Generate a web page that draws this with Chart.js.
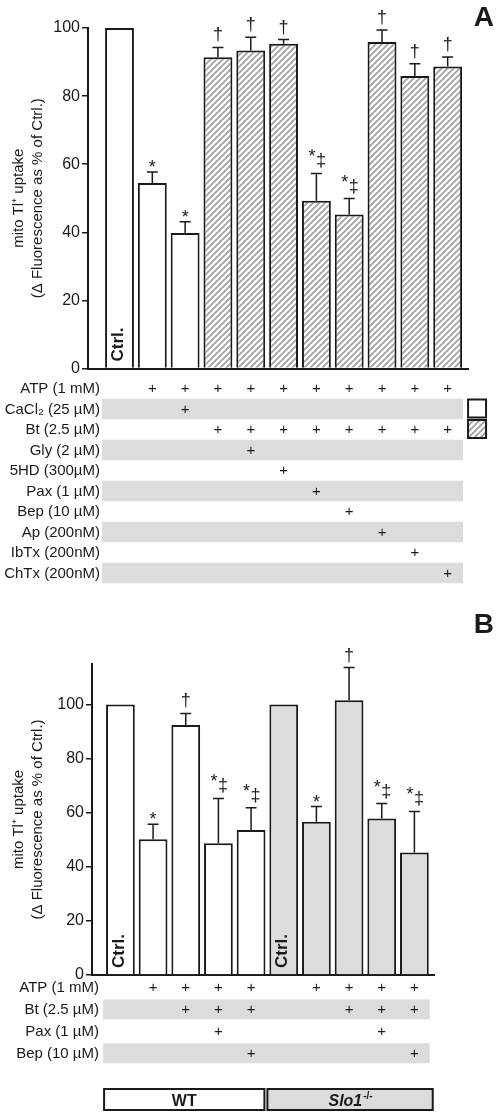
<!DOCTYPE html>
<html>
<head>
<meta charset="utf-8">
<script src="https://cdn.jsdelivr.net/npm/chart.js@4/dist/chart.umd.min.js"></script>
<style>
  html, body { margin: 0; padding: 0; background: #fff; }
  #wrap { position: relative; width: 498px; height: 1116px; }
  .panel { position: absolute; left: 0; width: 498px; }
  #boxA { top: 0; height: 595px; }
  #boxB { top: 595px; height: 521px; }
</style>
</head>
<body>
<div id="wrap">
  <div class="panel" id="boxA"><canvas id="chartA"></canvas></div>
  <div class="panel" id="boxB"><canvas id="chartB"></canvas></div>
</div>
<script>
// ---- panel A data ----
const uptakeA = [100, 54.5, 39.8, 91.4, 93.4, 95.4, 49.3, 45.2, 95.9, 85.9, 88.7];
const semA    = [0, 3.2, 3.3, 2.9, 3.9, 1.2, 8.0, 4.7, 3.5, 3.6, 2.8];
const sigA    = ['', '*', '*', '†', '†', '†', '*‡', '*‡', '†', '†', '†'];
const tagA    = ['Ctrl.', '', '', '', '', '', '', '', '', '', ''];
const fillA   = ['open', 'open', 'open', 'hatch', 'hatch', 'hatch', 'hatch', 'hatch', 'hatch', 'hatch', 'hatch'];
const rowsA   = ['ATP (1 mM)', 'CaCl₂ (25 µM)', 'Bt (2.5 µM)', 'Gly (2 µM)', '5HD (300µM)',
                 'Pax (1 µM)', 'Bep (10 µM)', 'Ap (200nM)', 'IbTx (200nM)', 'ChTx (200nM)'];
const plusA   = [[1, 2, 3, 4, 5, 6, 7, 8, 9, 10], [2], [3, 4, 5, 6, 7, 8, 9, 10], [4], [5], [6], [7], [8], [9], [10]];
const keyRowsA = [1, 2];
const keyFillA = ['open', 'hatch'];

// ---- panel B data ----
const uptakeB = [100, 50.2, 92.4, 48.7, 53.6, 100, 56.7, 101.6, 57.9, 45.3];
const semB    = [0, 5.5, 4.3, 16.6, 8.2, 0, 5.6, 12.1, 5.5, 15.2];
const sigB    = ['', '*', '†', '*‡', '*‡', '', '*', '†', '*‡', '*‡'];
const tagB    = ['Ctrl.', '', '', '', '', 'Ctrl.', '', '', '', ''];
const fillB   = ['open', 'open', 'open', 'open', 'open', 'grey', 'grey', 'grey', 'grey', 'grey'];
const rowsB   = ['ATP (1 mM)', 'Bt (2.5 µM)', 'Pax (1 µM)', 'Bep (10 µM)'];
const plusB   = [[1, 2, 3, 4, 6, 7, 8, 9], [2, 3, 4, 7, 8, 9], [3, 8], [4, 9]];
const groupsB    = ['WT', 'Slo1'];
const groupSupB  = ['', '-/-'];
const groupFromB = [0, 5];
const groupToB   = [4, 9];
const groupFillB = ['open', 'grey'];

const yTitle = ['mito Tl⁺ uptake', '(Δ Fluorescence as % of Ctrl.)'];

const INK = '#1a1a1a';
const GREY = '#dcdcdc';
const FONT = '"Liberation Sans", Arial, sans-serif';

function hatchPattern() {
  const s = 6;
  const c = document.createElement('canvas');
  c.width = s; c.height = s;
  const g = c.getContext('2d');
  g.fillStyle = '#fff';
  g.fillRect(0, 0, s, s);
  g.strokeStyle = '#a3a3a3';
  g.lineWidth = 1.8;
  g.beginPath();
  g.moveTo(-1, s + 1); g.lineTo(s + 1, -1);
  g.moveTo(-1, 1); g.lineTo(1, -1);
  g.moveTo(s - 1, s + 1); g.lineTo(s + 1, s - 1);
  g.stroke();
  return g.createPattern(c, 'repeat');
}

const fills = { open: '#ffffff', hatch: hatchPattern(), grey: GREY };

function glyph(ctx, s, x, bottom) {
  const m = ctx.measureText(s);
  ctx.fillText(s, x, bottom - m.actualBoundingBoxDescent);
}

function drawSig(ctx, s, cx, top) {
  if (!s) return;
  ctx.font = '18px ' + FONT;
  ctx.textAlign = 'center';
  ctx.textBaseline = 'alphabetic';
  if (s === '*‡') {
    const m = ctx.measureText('‡');
    const b = top - 5;
    glyph(ctx, '‡', cx + 4.5, b);
    glyph(ctx, '*', cx - 4.5, b - (m.actualBoundingBoxAscent + m.actualBoundingBoxDescent) + 3);
  } else {
    glyph(ctx, s, cx, top - 5);
  }
}

// error bars, significance marks, treatment table, keys and labels
const extras = {
  id: 'extras',
  afterDraw(chart, args, o) {
    const ctx = chart.ctx, xs = chart.scales.x, ys = chart.scales.y, area = chart.chartArea;
    const n = o.values.length;
    ctx.save();
    ctx.strokeStyle = INK;
    ctx.fillStyle = INK;
    ctx.lineWidth = 1.5;

    o.values.forEach((v, i) => {
      const cx = xs.getPixelForValue(i);
      let top = ys.getPixelForValue(v);
      if (o.errors[i] > 0) {
        const ey = ys.getPixelForValue(v + o.errors[i]);
        ctx.beginPath();
        ctx.moveTo(cx, top); ctx.lineTo(cx, ey);
        ctx.moveTo(cx - 5.5, ey); ctx.lineTo(cx + 5.5, ey);
        ctx.stroke();
        top = ey;
      }
      drawSig(ctx, o.sig[i], cx, top);
    });

    // "Ctrl." inside bars
    ctx.font = 'bold 17px ' + FONT;
    ctx.textAlign = 'left';
    ctx.textBaseline = 'middle';
    o.tags.forEach((t, i) => {
      if (!t) return;
      ctx.save();
      ctx.translate(xs.getPixelForValue(i) - 1, area.bottom - 7);
      ctx.rotate(-Math.PI / 2);
      ctx.fillText(t, 0, 0);
      ctx.restore();
    });

    // treatment table
    const bandL = xs.getPixelForValue(-0.5) - 1;
    const bandR = xs.getPixelForValue(n - 0.5) - 1;
    o.rows.forEach((label, r) => {
      const ry = area.bottom + o.rowStart + r * o.rowStep;
      if (r % 2 === 1) {
        ctx.fillStyle = GREY;
        ctx.fillRect(bandL, ry - o.bandH / 2 - 0.5, bandR - bandL, o.bandH);
      }
      ctx.fillStyle = INK;
      ctx.font = '15px ' + FONT;
      ctx.textBaseline = 'middle';
      ctx.textAlign = 'right';
      ctx.fillText(label, o.labelX, ry);
      ctx.textAlign = 'center';
      o.plus[r].forEach(i => ctx.fillText('+', xs.getPixelForValue(i), ry));
    });

    // fill key next to the table
    (o.keyRows || []).forEach((r, k) => {
      const ry = area.bottom + o.rowStart + r * o.rowStep;
      const kx = bandR + 5, ks = 18;
      ctx.fillStyle = fills[o.keyFill[k]];
      ctx.fillRect(kx, ry - 1 - ks / 2, ks, ks);
      ctx.lineWidth = 2;
      ctx.strokeStyle = INK;
      ctx.strokeRect(kx, ry - 1 - ks / 2, ks, ks);
    });

    // genotype boxes
    (o.groups || []).forEach((name, g) => {
      const l = xs.getPixelForValue(o.groupFrom[g] - 0.5);
      const r = xs.getPixelForValue(o.groupTo[g] + 0.5) - (g < o.groups.length - 1 ? 3 : -2);
      const t = area.bottom + o.groupTop, h = 21;
      ctx.fillStyle = fills[o.groupFill[g]];
      ctx.fillRect(l, t, r - l, h);
      ctx.lineWidth = 2;
      ctx.strokeStyle = INK;
      ctx.strokeRect(l, t, r - l, h);
      ctx.fillStyle = INK;
      ctx.textBaseline = 'alphabetic';
      ctx.textAlign = 'left';
      const sup = o.groupSup[g];
      ctx.font = (sup ? 'italic ' : '') + 'bold 16px ' + FONT;
      const w1 = ctx.measureText(name).width;
      ctx.font = 'bold 10px ' + FONT;
      const w2 = sup ? ctx.measureText(sup).width : 0;
      const sx = (l + r) / 2 - (w1 + w2) / 2;
      ctx.font = (sup ? 'italic ' : '') + 'bold 16px ' + FONT;
      ctx.fillText(name, sx, t + h / 2 + 6);
      if (sup) {
        ctx.font = 'bold 10px ' + FONT;
        ctx.fillText(sup, sx + w1 + 1, t + h / 2 - 1);
      }
    });

    // panel letter
    ctx.fillStyle = INK;
    ctx.font = 'bold 28px ' + FONT;
    ctx.textAlign = 'right';
    ctx.textBaseline = 'alphabetic';
    ctx.fillText(o.letter, 494, o.letterY);
    ctx.restore();
  }
};

function makeChart(id, values, fillKeys, cfg, extraOpts) {
  return new Chart(document.getElementById(id), {
    type: 'bar',
    data: {
      datasets: [{
        data: values.map((v, i) => ({ x: i, y: v })),
        backgroundColor: fillKeys.map(k => fills[k]),
        borderColor: INK,
        borderWidth: 2,
        barPercentage: 0.88,
        categoryPercentage: 1
      }]
    },
    options: {
      responsive: true,
      maintainAspectRatio: false,
      animation: false,
      events: [],
      layout: { padding: cfg.padding },
      plugins: {
        legend: { display: false },
        tooltip: { enabled: false },
        extras: extraOpts
      },
      scales: {
        x: {
          type: 'linear',
          offset: false,
          min: cfg.xMin,
          max: cfg.xMax,
          ticks: { display: false, stepSize: 1, includeBounds: false },
          grid: { display: false },
          border: { display: true, color: INK, width: 2 },
          afterFit: s => { s.height = cfg.xHeight; }
        },
        y: {
          min: 0,
          max: cfg.yMax,
          ticks: { stepSize: 20, includeBounds: false, color: INK, padding: 2, font: { family: FONT, size: 16 } },
          grid: { drawOnChartArea: false, drawTicks: true, tickLength: 6, color: INK, lineWidth: 1.5 },
          border: { display: true, color: INK, width: 2 },
          title: {
            display: true,
            text: yTitle,
            color: INK,
            font: { family: FONT, size: 15, lineHeight: 1.3 },
            padding: { top: 9, bottom: 0 }
          },
          afterFit: s => { s.width = cfg.yWidth; }
        }
      }
    },
    plugins: [extras]
  });
}

makeChart('chartA', uptakeA, fillA,
  { padding: { top: 28, right: 30, left: 0, bottom: 0 }, xMin: -0.96, xMax: 10.62, xHeight: 226.5, yMax: 100, yWidth: 88 },
  { values: uptakeA, errors: semA, sig: sigA, tags: tagA, rows: rowsA, plus: plusA,
    rowStart: 20.5, rowStep: 20.5, bandH: 20.5, labelX: 100,
    keyRows: keyRowsA, keyFill: keyFillA, letter: 'A', letterY: 26 });

makeChart('chartB', uptakeB, fillB,
  { padding: { top: 69, right: 64, left: 0, bottom: 0 }, xMin: -0.87, xMax: 9.6, xHeight: 141, yMax: 115, yWidth: 92 },
  { values: uptakeB, errors: semB, sig: sigB, tags: tagB, rows: rowsB, plus: plusB,
    rowStart: 13, rowStep: 21.9, bandH: 20, labelX: 99,
    groups: groupsB, groupSup: groupSupB, groupFrom: groupFromB, groupTo: groupToB, groupFill: groupFillB, groupTop: 114,
    letter: 'B', letterY: 38 });
</script>
</body>
</html>
